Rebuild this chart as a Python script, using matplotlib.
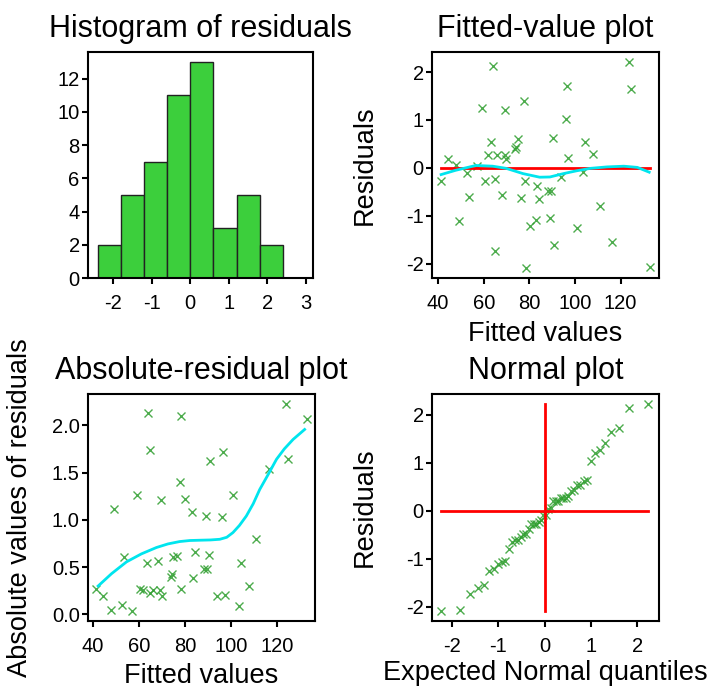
import matplotlib
matplotlib.use("Agg")
import numpy as np
import matplotlib.pyplot as plt
from statistics import NormalDist

# --- Donnees ---
fitted = [41.3, 44.1, 47.7, 49.1, 52.5, 53.6, 57.0, 59.0, 60.5, 61.7,
          63.2, 63.9, 64.8, 64.8, 65.8, 68.0, 69.2, 69.5, 69.8, 73.9,
          74.2, 74.8, 76.4, 77.6, 78.2, 78.3, 80.1, 83.1, 83.2, 84.1,
          88.1, 89.6, 89.1, 90.3, 90.6, 93.8, 95.9, 96.5, 97.1, 100.8,
          103.3, 104.3, 107.8, 110.8, 116.4, 123.8, 124.7, 132.8]
residuals = [-0.27, 0.195, 0.05, -1.11, -0.10, -0.61, 0.04, 1.26, -0.27, 0.26,
             0.54, 2.13, -0.23, -1.74, 0.26, -0.56, 0.26, 1.21, 0.195, 0.40,
             0.43, 0.61, -0.62, 1.40, -0.27, -2.10, -1.22, -1.08, -0.38, -0.66,
             -0.48, -0.48, -1.04, 0.63, -1.62, -0.19, 1.03, 1.72, 0.21, -1.26,
             -0.09, 0.54, 0.30, -0.80, -1.54, 2.22, 1.64, -2.07]

hist_bins = [-2.4, -1.8, -1.2, -0.6, 0.0, 0.6, 1.2, 1.8, 2.4]

# courbe lissee (cyan) du graphique des residus
smooth_x = [41.3, 47.7, 56.5, 63.9, 69.8, 77.2, 84.5, 89.0, 94.9, 100.8,
            106.7, 114.0, 121.4, 127.3, 132.5]
smooth_y = [-0.14, -0.05, 0.05, 0.035, -0.01, -0.12, -0.195, -0.19, -0.12, -0.06,
            -0.01, 0.02, 0.035, 0.01, -0.09]

# courbe lissee (cyan) du graphique des residus absolus
abs_smooth_x = [42.2, 48.0, 54.5, 61.0, 67.5, 72.5, 77.6, 82.0, 86.3, 91.0,
                95.0, 98.0, 100.7, 103.5, 106.5, 109.5, 112.3, 116.0, 119.6,
                123.0, 126.8, 131.8]
abs_smooth_y = [0.30, 0.43, 0.555, 0.64, 0.707, 0.745, 0.77, 0.781, 0.784, 0.787,
                0.794, 0.815, 0.865, 0.94, 1.04, 1.17, 1.32, 1.48, 1.64,
                1.75, 1.85, 1.955]

plt.rcParams['font.family'] = ['Liberation Sans', 'DejaVu Sans']
plt.rcParams['axes.unicode_minus'] = False
plt.rcParams['axes.linewidth'] = 1.5
plt.rcParams['xtick.major.width'] = 1.5
plt.rcParams['ytick.major.width'] = 1.5
plt.rcParams['xtick.major.size'] = 4.5
plt.rcParams['ytick.major.size'] = 4.0
plt.rcParams['xtick.labelsize'] = 14.5
plt.rcParams['ytick.labelsize'] = 14.5
plt.rcParams['xtick.major.pad'] = 7
plt.rcParams['ytick.major.pad'] = 2

W, H = 712, 688
fig = plt.figure(figsize=(W / 100, H / 100), dpi=100)


def px_axes(x0, y0, x1, y1):
    return fig.add_axes([x0 / W, 1 - y1 / H, (x1 - x0) / W, (y1 - y0) / H])


ax1 = px_axes(88, 52, 313, 278)
ax2 = px_axes(432, 52, 659, 278)
ax3 = px_axes(88, 394, 315, 621)
ax4 = px_axes(432, 394, 659, 621)

green = '#2e9e2e'
title_kw = dict(fontsize=22, pad=10.5)
label_kw = dict(fontsize=19.5)

# --- Histogramme ---
ax1.hist(residuals, bins=hist_bins, color='#3ccf3c', edgecolor='#222222', linewidth=1)
ax1.set_xlim(-2.65, 3.18)
ax1.set_ylim(0, 13.6)
ax1.set_xticks([-2, -1, 0, 1, 2, 3])
ax1.set_yticks([0, 2, 4, 6, 8, 10, 12])
ax1.set_title("Histogram of residuals", **title_kw)

# --- Residus vs valeurs ajustees ---
ax2.plot(fitted, residuals, 'x', color=green, ms=6, mew=1, alpha=0.85)
ax2.plot([min(fitted), max(fitted)], [0, 0], color='red', lw=2)
ax2.plot(smooth_x, smooth_y, color='#00e5ee', lw=2)
ax2.set_xlim(37.3, 136.8)
ax2.set_ylim(-2.30, 2.42)
ax2.set_xticks([40, 60, 80, 100, 120])
ax2.set_yticks([-2, -1, 0, 1, 2])
ax2.set_title("Fitted-value plot", **title_kw)
ax2.set_xlabel("Fitted values", **label_kw)
ax2.set_ylabel("Residuals", **label_kw)
ax2.xaxis.set_label_coords(0.5, -0.19)
ax2.yaxis.set_label_coords(-0.238, 0.5)

# --- Residus absolus ---
ax3.plot(fitted, np.abs(residuals), 'x', color=green, ms=6, mew=1, alpha=0.85)
ax3.plot(abs_smooth_x, abs_smooth_y, color='#00e5ee', lw=2)
ax3.set_xlim(37.8, 136.3)
ax3.set_ylim(-0.07, 2.33)
ax3.set_xticks([40, 60, 80, 100, 120])
ax3.set_yticks([0.0, 0.5, 1.0, 1.5, 2.0])
ax3.set_yticklabels(["0.0", "0.5", "1.0", "1.5", "2.0"])
ax3.set_title("Absolute-residual plot", **title_kw)
ax3.set_xlabel("Fitted values", **label_kw)
ax3.set_ylabel("Absolute values of residuals", **label_kw)
ax3.xaxis.set_label_coords(0.5, -0.186)
ax3.yaxis.set_label_coords(-0.242, 0.5)

# --- Graphique normal ---
n = len(residuals)
sorted_res = np.sort(residuals)
quantiles = [NormalDist().inv_cdf((i - 0.375) / (n + 0.25)) for i in range(1, n + 1)]
ax4.plot(quantiles, sorted_res, 'x', color=green, ms=6, mew=1, alpha=0.85)
ax4.plot([0, 0], [sorted_res[0], sorted_res[-1]], color='red', lw=2)
ax4.plot([quantiles[0], quantiles[-1]], [0, 0], color='red', lw=2)
ax4.set_xlim(-2.43, 2.47)
ax4.set_ylim(-2.30, 2.43)
ax4.set_xticks([-2, -1, 0, 1, 2])
ax4.set_yticks([-2, -1, 0, 1, 2])
ax4.set_title("Normal plot", **title_kw)
ax4.set_xlabel("Expected Normal quantiles", **label_kw)
ax4.set_ylabel("Residuals", **label_kw)
ax4.xaxis.set_label_coords(0.5, -0.172)
ax4.yaxis.set_label_coords(-0.238, 0.5)

for ax in (ax1, ax2, ax3, ax4):
    ax.tick_params(top=False, right=False, direction='out', color='black')

fig.savefig("out.png", dpi=100)
